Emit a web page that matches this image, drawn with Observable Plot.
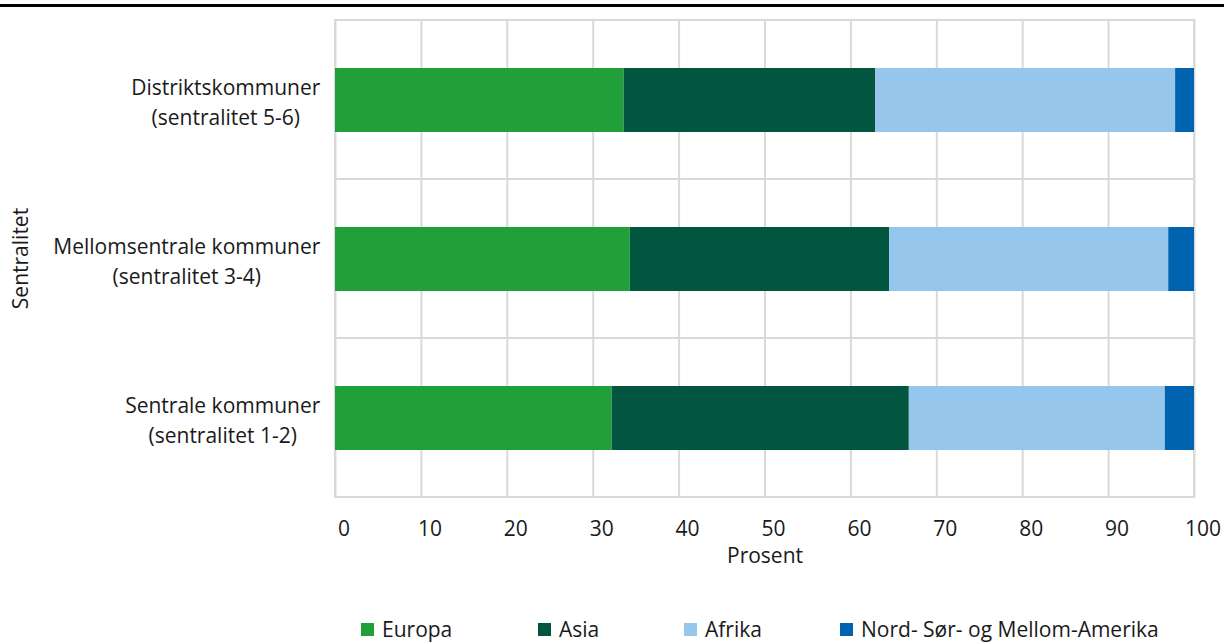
<!DOCTYPE html>
<html>
<head>
<meta charset="utf-8">
<script src="https://cdn.jsdelivr.net/npm/d3@7"></script>
<script src="https://cdn.jsdelivr.net/npm/@observablehq/plot@0.6"></script>
<style>
  html, body { margin: 0; padding: 0; background: #fff; }
  body { width: 1224px; height: 642px; position: relative; overflow: hidden; font-family: "Open Sans", sans-serif; color: #1a1a1a; }
  #rule { position: absolute; left: 0; top: 4px; width: 1224px; height: 3px; background: #000; }
  #chart { position: absolute; left: 0; top: 0; }
  #legend { position: absolute; left: 0; top: 617px; width: 1224px; height: 25px; font-size: 21px; line-height: 25px; }
  .item { position: absolute; top: 0; height: 25px; display: flex; align-items: center; white-space: nowrap; }
  .sw { width: 13px; height: 13px; margin-right: 8px; }
</style>
</head>
<body>
<div id="rule"></div>
<div id="chart"></div>
<div id="legend"></div>
<script>
const categories = ["Distriktskommuner", "Mellomsentrale kommuner", "Sentrale kommuner"];
const subLabels = ["(sentralitet 5-6)", "(sentralitet 3-4)", "(sentralitet 1-2)"];
const series = ["Europa", "Asia", "Afrika", "Nord- Sør- og Mellom-Amerika"];
const europa = [33.6, 34.3, 32.2];
const asia = [29.3, 30.2, 34.6];
const afrika = [34.9, 32.5, 29.8];
const amerika = [2.2, 3.0, 3.4];
const colors = ["#21A03A", "#02553F", "#96C6EB", "#0063AF"];
const xTicks = [0, 10, 20, 30, 40, 50, 60, 70, 80, 90, 100];

const valuesBySeries = [europa, asia, afrika, amerika];
const rows = [];
categories.forEach((c, i) => {
  series.forEach((s, j) => rows.push({category: c, series: s, value: valuesBySeries[j][i]}));
});

const grid = "#d9d9d9";
const chart = Plot.plot({
  width: 1224,
  height: 590,
  marginLeft: 335,
  marginRight: 30,
  marginTop: 19,
  marginBottom: 93,
  style: {fontFamily: "Open Sans", fontSize: "21px", color: "#1a1a1a", background: "transparent"},
  x: {domain: [0, 100]},
  y: {domain: categories, padding: 0},
  color: {domain: series, range: colors},
  marks: [
    Plot.ruleX(xTicks, {stroke: grid, strokeWidth: 2}),
    Plot.barX(categories, {x1: 0, x2: 100, y: d => d, fill: "none", stroke: grid, strokeWidth: 2}),
    Plot.barX(rows, {x: "value", y: "category", fill: "series", insetTop: 48, insetBottom: 47}),
    Plot.axisX({ticks: xTicks, tickSize: 0, tickPadding: 24, dx: 8.5, fontSize: 21,
      label: "Prosent", labelArrow: "none", labelAnchor: "center", labelOffset: 65}),
    Plot.axisY({tickSize: 0, tickPadding: 15, fontSize: 21, lineHeight: 1.45,
      tickFormat: d => d + "\n" + subLabels[categories.indexOf(d)],
      label: "Sentralitet", labelArrow: "none", labelAnchor: "center", labelOffset: 322})
  ]
});
document.getElementById("chart").appendChild(chart);

// remove any arrow left on axis labels by older versions
chart.querySelectorAll("text").forEach(t => {
  if (t.textContent.includes("→")) t.textContent = t.textContent.replace(/\s*→\s*/, "");
});

// center the two lines of each category label on each other (right-aligned block)
chart.querySelectorAll("g[aria-label='y-axis tick label'] text").forEach(t => {
  const w = t.getBBox().width;
  t.setAttribute("text-anchor", "middle");
  const tr = t.getAttribute("transform") || "";
  t.setAttribute("transform", tr + ` translate(${-w / 2},0)`);
});

const legend = document.getElementById("legend");
const legendLeft = [361, 538, 684, 840];
series.forEach((s, i) => {
  const item = document.createElement("div");
  item.className = "item";
  item.style.left = legendLeft[i] + "px";
  const sw = document.createElement("span");
  sw.className = "sw";
  sw.style.background = colors[i];
  const tx = document.createElement("span");
  tx.textContent = s;
  item.appendChild(sw);
  item.appendChild(tx);
  legend.appendChild(item);
});
</script>
</body>
</html>
